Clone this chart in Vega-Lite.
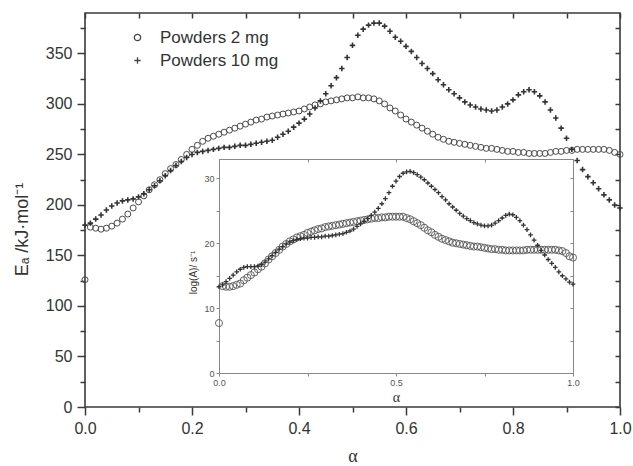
{
"$schema":"https://vega.github.io/schema/vega-lite/v6.json",
"width":535,"height":394,"autosize":"none",
"padding":{"left":85,"top":13,"right":13,"bottom":59},
"config":{"font":"Liberation Sans","view":{"stroke":"#3a3a3a","strokeWidth":1.6},"axis":{"grid":false,"labelColor":"#333","tickColor":"#3a3a3a","titleColor":"#333","labelFlush":false,"labelOverlap":false}},
"datasets":{
"main":[
{"a":0,"s":"2 mg","v":126},{"a":0.01,"s":"2 mg","v":178},{"a":0.02,"s":"2 mg","v":177},{"a":0.03,"s":"2 mg","v":176},{"a":0.04,"s":"2 mg","v":177},{"a":0.05,"s":"2 mg","v":179},{"a":0.06,"s":"2 mg","v":182},{"a":0.07,"s":"2 mg","v":186},{"a":0.08,"s":"2 mg","v":191},{"a":0.09,"s":"2 mg","v":197},{"a":0.1,"s":"2 mg","v":203},
{"a":0.11,"s":"2 mg","v":209},{"a":0.12,"s":"2 mg","v":215},{"a":0.13,"s":"2 mg","v":220},{"a":0.14,"s":"2 mg","v":225},{"a":0.15,"s":"2 mg","v":231},{"a":0.16,"s":"2 mg","v":236},{"a":0.17,"s":"2 mg","v":240},{"a":0.18,"s":"2 mg","v":245},{"a":0.19,"s":"2 mg","v":250},{"a":0.2,"s":"2 mg","v":255},
{"a":0.21,"s":"2 mg","v":259},{"a":0.22,"s":"2 mg","v":263},{"a":0.23,"s":"2 mg","v":266},{"a":0.24,"s":"2 mg","v":268},{"a":0.25,"s":"2 mg","v":270},{"a":0.26,"s":"2 mg","v":272},{"a":0.27,"s":"2 mg","v":274},{"a":0.28,"s":"2 mg","v":276},{"a":0.29,"s":"2 mg","v":278},{"a":0.3,"s":"2 mg","v":280},
{"a":0.31,"s":"2 mg","v":282},{"a":0.32,"s":"2 mg","v":284},{"a":0.33,"s":"2 mg","v":285},{"a":0.34,"s":"2 mg","v":287},{"a":0.35,"s":"2 mg","v":288},{"a":0.36,"s":"2 mg","v":289},{"a":0.37,"s":"2 mg","v":290},{"a":0.38,"s":"2 mg","v":291},{"a":0.39,"s":"2 mg","v":292},{"a":0.4,"s":"2 mg","v":293},
{"a":0.41,"s":"2 mg","v":295},{"a":0.42,"s":"2 mg","v":297},{"a":0.43,"s":"2 mg","v":299},{"a":0.44,"s":"2 mg","v":300},{"a":0.45,"s":"2 mg","v":302},{"a":0.46,"s":"2 mg","v":303},{"a":0.47,"s":"2 mg","v":304},{"a":0.48,"s":"2 mg","v":305},{"a":0.49,"s":"2 mg","v":306},{"a":0.5,"s":"2 mg","v":306},
{"a":0.51,"s":"2 mg","v":307},{"a":0.52,"s":"2 mg","v":306},{"a":0.53,"s":"2 mg","v":306},{"a":0.54,"s":"2 mg","v":305},{"a":0.55,"s":"2 mg","v":303},{"a":0.56,"s":"2 mg","v":300},{"a":0.57,"s":"2 mg","v":296},{"a":0.58,"s":"2 mg","v":293},{"a":0.59,"s":"2 mg","v":289},{"a":0.6,"s":"2 mg","v":285},
{"a":0.61,"s":"2 mg","v":282},{"a":0.62,"s":"2 mg","v":279},{"a":0.63,"s":"2 mg","v":276},{"a":0.64,"s":"2 mg","v":273},{"a":0.65,"s":"2 mg","v":270},{"a":0.66,"s":"2 mg","v":267},{"a":0.67,"s":"2 mg","v":265},{"a":0.68,"s":"2 mg","v":263},{"a":0.69,"s":"2 mg","v":262},{"a":0.7,"s":"2 mg","v":261},
{"a":0.71,"s":"2 mg","v":260},{"a":0.72,"s":"2 mg","v":259},{"a":0.73,"s":"2 mg","v":258},{"a":0.74,"s":"2 mg","v":257},{"a":0.75,"s":"2 mg","v":256},{"a":0.76,"s":"2 mg","v":256},{"a":0.77,"s":"2 mg","v":255},{"a":0.78,"s":"2 mg","v":254},{"a":0.79,"s":"2 mg","v":253},{"a":0.8,"s":"2 mg","v":253},
{"a":0.81,"s":"2 mg","v":252},{"a":0.82,"s":"2 mg","v":252},{"a":0.83,"s":"2 mg","v":251},{"a":0.84,"s":"2 mg","v":251},{"a":0.85,"s":"2 mg","v":251},{"a":0.86,"s":"2 mg","v":251},{"a":0.87,"s":"2 mg","v":252},{"a":0.88,"s":"2 mg","v":253},{"a":0.89,"s":"2 mg","v":253},{"a":0.9,"s":"2 mg","v":254},
{"a":0.91,"s":"2 mg","v":254},{"a":0.92,"s":"2 mg","v":255},{"a":0.93,"s":"2 mg","v":255},{"a":0.94,"s":"2 mg","v":255},{"a":0.95,"s":"2 mg","v":255},{"a":0.96,"s":"2 mg","v":255},{"a":0.97,"s":"2 mg","v":255},{"a":0.98,"s":"2 mg","v":254},{"a":0.99,"s":"2 mg","v":252},{"a":1,"s":"2 mg","v":250},
{"a":0,"s":"10 mg","v":180},{"a":0.01,"s":"10 mg","v":182},{"a":0.02,"s":"10 mg","v":186},{"a":0.03,"s":"10 mg","v":190},{"a":0.04,"s":"10 mg","v":195},{"a":0.05,"s":"10 mg","v":199},{"a":0.06,"s":"10 mg","v":202},{"a":0.07,"s":"10 mg","v":204},{"a":0.08,"s":"10 mg","v":205},{"a":0.09,"s":"10 mg","v":206},{"a":0.1,"s":"10 mg","v":208},
{"a":0.11,"s":"10 mg","v":211},{"a":0.12,"s":"10 mg","v":215},{"a":0.13,"s":"10 mg","v":219},{"a":0.14,"s":"10 mg","v":224},{"a":0.15,"s":"10 mg","v":229},{"a":0.16,"s":"10 mg","v":234},{"a":0.17,"s":"10 mg","v":239},{"a":0.18,"s":"10 mg","v":243},{"a":0.19,"s":"10 mg","v":247},{"a":0.2,"s":"10 mg","v":250},
{"a":0.21,"s":"10 mg","v":252},{"a":0.22,"s":"10 mg","v":253},{"a":0.23,"s":"10 mg","v":254},{"a":0.24,"s":"10 mg","v":255},{"a":0.25,"s":"10 mg","v":256},{"a":0.26,"s":"10 mg","v":257},{"a":0.27,"s":"10 mg","v":257},{"a":0.28,"s":"10 mg","v":258},{"a":0.29,"s":"10 mg","v":259},{"a":0.3,"s":"10 mg","v":259},
{"a":0.31,"s":"10 mg","v":260},{"a":0.32,"s":"10 mg","v":261},{"a":0.33,"s":"10 mg","v":262},{"a":0.34,"s":"10 mg","v":263},{"a":0.35,"s":"10 mg","v":264},{"a":0.36,"s":"10 mg","v":267},{"a":0.37,"s":"10 mg","v":270},{"a":0.38,"s":"10 mg","v":273},{"a":0.39,"s":"10 mg","v":277},{"a":0.4,"s":"10 mg","v":281},
{"a":0.41,"s":"10 mg","v":285},{"a":0.42,"s":"10 mg","v":290},{"a":0.43,"s":"10 mg","v":296},{"a":0.44,"s":"10 mg","v":303},{"a":0.45,"s":"10 mg","v":310},{"a":0.46,"s":"10 mg","v":318},{"a":0.47,"s":"10 mg","v":326},{"a":0.48,"s":"10 mg","v":335},{"a":0.49,"s":"10 mg","v":346},{"a":0.5,"s":"10 mg","v":358},
{"a":0.51,"s":"10 mg","v":368},{"a":0.52,"s":"10 mg","v":374},{"a":0.53,"s":"10 mg","v":378},{"a":0.54,"s":"10 mg","v":380},{"a":0.55,"s":"10 mg","v":380},{"a":0.56,"s":"10 mg","v":377},{"a":0.57,"s":"10 mg","v":372},{"a":0.58,"s":"10 mg","v":366},{"a":0.59,"s":"10 mg","v":362},{"a":0.6,"s":"10 mg","v":357},
{"a":0.61,"s":"10 mg","v":352},{"a":0.62,"s":"10 mg","v":346},{"a":0.63,"s":"10 mg","v":340},{"a":0.64,"s":"10 mg","v":335},{"a":0.65,"s":"10 mg","v":330},{"a":0.66,"s":"10 mg","v":324},{"a":0.67,"s":"10 mg","v":319},{"a":0.68,"s":"10 mg","v":314},{"a":0.69,"s":"10 mg","v":310},{"a":0.7,"s":"10 mg","v":306},
{"a":0.71,"s":"10 mg","v":302},{"a":0.72,"s":"10 mg","v":299},{"a":0.73,"s":"10 mg","v":297},{"a":0.74,"s":"10 mg","v":295},{"a":0.75,"s":"10 mg","v":294},{"a":0.76,"s":"10 mg","v":293},{"a":0.77,"s":"10 mg","v":294},{"a":0.78,"s":"10 mg","v":297},{"a":0.79,"s":"10 mg","v":300},{"a":0.8,"s":"10 mg","v":304},
{"a":0.81,"s":"10 mg","v":309},{"a":0.82,"s":"10 mg","v":312},{"a":0.83,"s":"10 mg","v":314},{"a":0.84,"s":"10 mg","v":312},{"a":0.85,"s":"10 mg","v":308},{"a":0.86,"s":"10 mg","v":302},{"a":0.87,"s":"10 mg","v":294},{"a":0.88,"s":"10 mg","v":286},{"a":0.89,"s":"10 mg","v":276},{"a":0.9,"s":"10 mg","v":266},
{"a":0.91,"s":"10 mg","v":255},{"a":0.92,"s":"10 mg","v":244},{"a":0.93,"s":"10 mg","v":235},{"a":0.94,"s":"10 mg","v":228},{"a":0.95,"s":"10 mg","v":222},{"a":0.96,"s":"10 mg","v":216},{"a":0.97,"s":"10 mg","v":210},{"a":0.98,"s":"10 mg","v":205},{"a":0.99,"s":"10 mg","v":200},{"a":1,"s":"10 mg","v":197}
],
"inset":[
{"a":0,"s":"2 mg","v":7.7},{"a":0.01,"s":"2 mg","v":13.4},{"a":0.02,"s":"2 mg","v":13.3},{"a":0.03,"s":"2 mg","v":13.3},{"a":0.04,"s":"2 mg","v":13.4},{"a":0.05,"s":"2 mg","v":13.6},{"a":0.06,"s":"2 mg","v":13.8},{"a":0.07,"s":"2 mg","v":14.3},{"a":0.08,"s":"2 mg","v":14.7},{"a":0.09,"s":"2 mg","v":15.1},{"a":0.1,"s":"2 mg","v":15.5},
{"a":0.11,"s":"2 mg","v":16.0},{"a":0.12,"s":"2 mg","v":16.4},{"a":0.13,"s":"2 mg","v":16.9},{"a":0.14,"s":"2 mg","v":17.5},{"a":0.15,"s":"2 mg","v":18.0},{"a":0.16,"s":"2 mg","v":18.5},{"a":0.17,"s":"2 mg","v":19.0},{"a":0.18,"s":"2 mg","v":19.5},{"a":0.19,"s":"2 mg","v":19.9},{"a":0.2,"s":"2 mg","v":20.3},
{"a":0.21,"s":"2 mg","v":20.6},{"a":0.22,"s":"2 mg","v":20.9},{"a":0.23,"s":"2 mg","v":21.1},{"a":0.24,"s":"2 mg","v":21.3},{"a":0.25,"s":"2 mg","v":21.6},{"a":0.26,"s":"2 mg","v":21.8},{"a":0.27,"s":"2 mg","v":22.0},{"a":0.28,"s":"2 mg","v":22.2},{"a":0.29,"s":"2 mg","v":22.3},{"a":0.3,"s":"2 mg","v":22.5},
{"a":0.31,"s":"2 mg","v":22.6},{"a":0.32,"s":"2 mg","v":22.7},{"a":0.33,"s":"2 mg","v":22.8},{"a":0.34,"s":"2 mg","v":22.9},{"a":0.35,"s":"2 mg","v":23.0},{"a":0.36,"s":"2 mg","v":23.1},{"a":0.37,"s":"2 mg","v":23.2},{"a":0.38,"s":"2 mg","v":23.3},{"a":0.39,"s":"2 mg","v":23.4},{"a":0.4,"s":"2 mg","v":23.5},
{"a":0.41,"s":"2 mg","v":23.6},{"a":0.42,"s":"2 mg","v":23.7},{"a":0.43,"s":"2 mg","v":23.8},{"a":0.44,"s":"2 mg","v":23.9},{"a":0.45,"s":"2 mg","v":23.9},{"a":0.46,"s":"2 mg","v":24.0},{"a":0.47,"s":"2 mg","v":24.0},{"a":0.48,"s":"2 mg","v":24.1},{"a":0.49,"s":"2 mg","v":24.1},{"a":0.5,"s":"2 mg","v":24.1},
{"a":0.51,"s":"2 mg","v":24.1},{"a":0.52,"s":"2 mg","v":24.1},{"a":0.53,"s":"2 mg","v":23.9},{"a":0.54,"s":"2 mg","v":23.7},{"a":0.55,"s":"2 mg","v":23.4},{"a":0.56,"s":"2 mg","v":23.1},{"a":0.57,"s":"2 mg","v":22.8},{"a":0.58,"s":"2 mg","v":22.4},{"a":0.59,"s":"2 mg","v":22.0},{"a":0.6,"s":"2 mg","v":21.7},
{"a":0.61,"s":"2 mg","v":21.3},{"a":0.62,"s":"2 mg","v":21.0},{"a":0.63,"s":"2 mg","v":20.7},{"a":0.64,"s":"2 mg","v":20.5},{"a":0.65,"s":"2 mg","v":20.3},{"a":0.66,"s":"2 mg","v":20.1},{"a":0.67,"s":"2 mg","v":20.0},{"a":0.68,"s":"2 mg","v":19.9},{"a":0.69,"s":"2 mg","v":19.8},{"a":0.7,"s":"2 mg","v":19.7},
{"a":0.71,"s":"2 mg","v":19.6},{"a":0.72,"s":"2 mg","v":19.5},{"a":0.73,"s":"2 mg","v":19.5},{"a":0.74,"s":"2 mg","v":19.4},{"a":0.75,"s":"2 mg","v":19.3},{"a":0.76,"s":"2 mg","v":19.2},{"a":0.77,"s":"2 mg","v":19.1},{"a":0.78,"s":"2 mg","v":19.1},{"a":0.79,"s":"2 mg","v":19.0},{"a":0.8,"s":"2 mg","v":19.0},
{"a":0.81,"s":"2 mg","v":18.9},{"a":0.82,"s":"2 mg","v":18.9},{"a":0.83,"s":"2 mg","v":18.9},{"a":0.84,"s":"2 mg","v":18.9},{"a":0.85,"s":"2 mg","v":18.9},{"a":0.86,"s":"2 mg","v":18.9},{"a":0.87,"s":"2 mg","v":19.0},{"a":0.88,"s":"2 mg","v":19.0},{"a":0.89,"s":"2 mg","v":19.0},{"a":0.9,"s":"2 mg","v":19.0},
{"a":0.91,"s":"2 mg","v":19.0},{"a":0.92,"s":"2 mg","v":19.0},{"a":0.93,"s":"2 mg","v":19.0},{"a":0.94,"s":"2 mg","v":19.0},{"a":0.95,"s":"2 mg","v":19.0},{"a":0.96,"s":"2 mg","v":18.9},{"a":0.97,"s":"2 mg","v":18.8},{"a":0.98,"s":"2 mg","v":18.5},{"a":0.99,"s":"2 mg","v":18.0},{"a":1,"s":"2 mg","v":17.8},
{"a":0,"s":"10 mg","v":13.3},{"a":0.01,"s":"10 mg","v":13.6},{"a":0.02,"s":"10 mg","v":14.1},{"a":0.03,"s":"10 mg","v":14.6},{"a":0.04,"s":"10 mg","v":15.1},{"a":0.05,"s":"10 mg","v":15.6},{"a":0.06,"s":"10 mg","v":16.0},{"a":0.07,"s":"10 mg","v":16.3},{"a":0.08,"s":"10 mg","v":16.4},{"a":0.09,"s":"10 mg","v":16.4},{"a":0.1,"s":"10 mg","v":16.4},
{"a":0.11,"s":"10 mg","v":16.5},{"a":0.12,"s":"10 mg","v":16.7},{"a":0.13,"s":"10 mg","v":17.1},{"a":0.14,"s":"10 mg","v":17.6},{"a":0.15,"s":"10 mg","v":18.1},{"a":0.16,"s":"10 mg","v":18.6},{"a":0.17,"s":"10 mg","v":19.1},{"a":0.18,"s":"10 mg","v":19.5},{"a":0.19,"s":"10 mg","v":19.9},{"a":0.2,"s":"10 mg","v":20.2},
{"a":0.21,"s":"10 mg","v":20.4},{"a":0.22,"s":"10 mg","v":20.6},{"a":0.23,"s":"10 mg","v":20.7},{"a":0.24,"s":"10 mg","v":20.8},{"a":0.25,"s":"10 mg","v":20.8},{"a":0.26,"s":"10 mg","v":20.9},{"a":0.27,"s":"10 mg","v":20.9},{"a":0.28,"s":"10 mg","v":21.0},{"a":0.29,"s":"10 mg","v":21.0},{"a":0.3,"s":"10 mg","v":21.1},
{"a":0.31,"s":"10 mg","v":21.1},{"a":0.32,"s":"10 mg","v":21.2},{"a":0.33,"s":"10 mg","v":21.3},{"a":0.34,"s":"10 mg","v":21.4},{"a":0.35,"s":"10 mg","v":21.5},{"a":0.36,"s":"10 mg","v":21.7},{"a":0.37,"s":"10 mg","v":21.9},{"a":0.38,"s":"10 mg","v":22.2},{"a":0.39,"s":"10 mg","v":22.6},{"a":0.4,"s":"10 mg","v":23.0},
{"a":0.41,"s":"10 mg","v":23.4},{"a":0.42,"s":"10 mg","v":23.8},{"a":0.43,"s":"10 mg","v":24.3},{"a":0.44,"s":"10 mg","v":24.8},{"a":0.45,"s":"10 mg","v":25.4},{"a":0.46,"s":"10 mg","v":26.1},{"a":0.47,"s":"10 mg","v":26.9},{"a":0.48,"s":"10 mg","v":27.8},{"a":0.49,"s":"10 mg","v":28.8},{"a":0.5,"s":"10 mg","v":29.6},
{"a":0.51,"s":"10 mg","v":30.3},{"a":0.52,"s":"10 mg","v":30.8},{"a":0.53,"s":"10 mg","v":31.0},{"a":0.54,"s":"10 mg","v":31.1},{"a":0.55,"s":"10 mg","v":30.9},{"a":0.56,"s":"10 mg","v":30.6},{"a":0.57,"s":"10 mg","v":30.2},{"a":0.58,"s":"10 mg","v":29.8},{"a":0.59,"s":"10 mg","v":29.3},{"a":0.6,"s":"10 mg","v":28.8},
{"a":0.61,"s":"10 mg","v":28.3},{"a":0.62,"s":"10 mg","v":27.8},{"a":0.63,"s":"10 mg","v":27.2},{"a":0.64,"s":"10 mg","v":26.7},{"a":0.65,"s":"10 mg","v":26.1},{"a":0.66,"s":"10 mg","v":25.6},{"a":0.67,"s":"10 mg","v":25.1},{"a":0.68,"s":"10 mg","v":24.6},{"a":0.69,"s":"10 mg","v":24.2},{"a":0.7,"s":"10 mg","v":23.8},
{"a":0.71,"s":"10 mg","v":23.5},{"a":0.72,"s":"10 mg","v":23.2},{"a":0.73,"s":"10 mg","v":23.0},{"a":0.74,"s":"10 mg","v":22.8},{"a":0.75,"s":"10 mg","v":22.7},{"a":0.76,"s":"10 mg","v":22.7},{"a":0.77,"s":"10 mg","v":22.8},{"a":0.78,"s":"10 mg","v":23.1},{"a":0.79,"s":"10 mg","v":23.5},{"a":0.8,"s":"10 mg","v":23.9},
{"a":0.81,"s":"10 mg","v":24.3},{"a":0.82,"s":"10 mg","v":24.5},{"a":0.83,"s":"10 mg","v":24.4},{"a":0.84,"s":"10 mg","v":24.0},{"a":0.85,"s":"10 mg","v":23.5},{"a":0.86,"s":"10 mg","v":22.8},{"a":0.87,"s":"10 mg","v":22.1},{"a":0.88,"s":"10 mg","v":21.3},{"a":0.89,"s":"10 mg","v":20.5},{"a":0.9,"s":"10 mg","v":19.7},
{"a":0.91,"s":"10 mg","v":18.9},{"a":0.92,"s":"10 mg","v":18.2},{"a":0.93,"s":"10 mg","v":17.5},{"a":0.94,"s":"10 mg","v":16.9},{"a":0.95,"s":"10 mg","v":16.3},{"a":0.96,"s":"10 mg","v":15.6},{"a":0.97,"s":"10 mg","v":15.0},{"a":0.98,"s":"10 mg","v":14.5},{"a":0.99,"s":"10 mg","v":14.0},{"a":1,"s":"10 mg","v":13.7}
]},
"layer":[
{"layer":[
 {"data":{"name":"main"},"transform":[{"filter":"datum.s==='2 mg'"}],
  "mark":{"type":"point","filled":false,"color":"#4a4a4a","strokeWidth":1,"size":36,"opacity":1},
  "encoding":{
   "x":{"field":"a","type":"quantitative","scale":{"domain":[0,1],"nice":false},
    "axis":{"orient":"bottom","values":[0,0.1,0.2,0.3,0.4,0.5,0.6,0.7,0.8,0.9,1],"format":".1f","labelExpr":"round(datum.value*10)%2===0 ? datum.label : ''","tickSize":{"condition":{"test":"round(datum.value*10)%2===0","value":8},"value":5},"tickWidth":1.5,"domain":false,"labelFontSize":16,"labelPadding":5,"title":"α","titleFont":"Liberation Serif","titleFontSize":18,"titleFontWeight":"normal","titleX":267.5,"titleY":54,"titleBaseline":"alphabetic","titleAlign":"center"}},
   "y":{"field":"v","type":"quantitative","scale":{"domain":[0,390],"nice":false},
    "axis":{"orient":"left","values":[0,25,50,75,100,125,150,175,200,225,250,275,300,325,350,375],"labelExpr":"datum.value%50===0 ? datum.label : ''","tickSize":{"condition":{"test":"datum.value%50===0","value":8},"value":5},"tickWidth":1.5,"domain":false,"labelFontSize":16,"labelPadding":5,"title":"Eₐ /kJ·mol⁻¹","titleFontSize":18,"titleFontWeight":"normal","titleX":-58,"titleY":216,"titleAngle":-90,"titleBaseline":"alphabetic","titleAlign":"center"}},
   "shape":{"field":"s","type":"nominal","scale":{"domain":["2 mg","10 mg"],"range":["circle","M-1,0H1M0,-1V1"]},
    "legend":{"orient":"none","legendX":44,"legendY":16,"title":null,"padding":0,"labelExpr":"'Powders ' + datum.label","labelFontSize":17,"labelColor":"#333","symbolSize":40,"symbolStrokeWidth":1.3,"symbolStrokeColor":"#444","symbolFillColor":"transparent","labelOffset":14,"rowPadding":5}}
  }},
 {"data":{"name":"main"},"transform":[{"filter":"datum.s==='10 mg'"}],
  "mark":{"type":"point","filled":false,"color":"#333","strokeWidth":1.6,"size":30,"opacity":1},
  "encoding":{
   "x":{"field":"a","type":"quantitative","scale":{"domain":[0,1],"nice":false},
    "axis":{"orient":"top","values":[0,0.1,0.2,0.3,0.4,0.5,0.6,0.7,0.8,0.9,1],"labels":false,"tickSize":-5,"tickWidth":1.5,"domain":false,"title":null}},
   "y":{"field":"v","type":"quantitative","scale":{"domain":[0,390],"nice":false},
    "axis":{"orient":"right","values":[0,25,50,75,100,125,150,175,200,225,250,275,300,325,350,375],"labels":false,"tickSize":-5,"tickWidth":1.5,"domain":false,"title":null}},
   "shape":{"field":"s","type":"nominal","scale":{"domain":["2 mg","10 mg"],"range":["circle","M-1,0H1M0,-1V1"]}}
  }}
 ],
 "resolve":{"axis":{"x":"independent","y":"independent"}}},
{"layer":[
 {"data":{"name":"inset"},"transform":[{"filter":"datum.s==='2 mg'"}],
  "mark":{"type":"point","shape":"circle","filled":false,"color":"#555","strokeWidth":0.9,"size":50,"opacity":1},
  "encoding":{
   "x":{"field":"a","type":"quantitative","scale":{"domain":[0,1],"nice":false,"range":[134,488]},
    "axis":{"orient":"bottom","offset":-34,"values":[0,0.25,0.5,0.75,1],"labelExpr":"(datum.value*2)%1===0 ? format(datum.value,'.1f') : ''","tickSize":3,"domainColor":"#888","tickColor":"#888","labelFontSize":9,"labelColor":"#555","labelPadding":2,"title":"α","titleFont":"Liberation Serif","titleFontSize":14,"titleFontWeight":"normal","titleX":311,"titleY":28,"titleBaseline":"alphabetic","titleAlign":"center"}},
   "y":{"field":"v","type":"quantitative","scale":{"domain":[0,33],"nice":false,"range":[360,146]},
    "axis":{"orient":"left","offset":-134,"values":[0,5,10,15,20,25,30],"labelExpr":"datum.value%10===0 ? datum.label : ''","tickSize":3,"domainColor":"#888","tickColor":"#888","labelFontSize":9,"labelColor":"#555","labelPadding":2,"title":"log(A)/ s⁻¹","titleFontSize":10,"titleFontWeight":"normal","titleX":-23,"titleY":259,"titleAngle":-90,"titleBaseline":"alphabetic","titleAlign":"center"}}
  }},
 {"data":{"name":"inset"},"transform":[{"filter":"datum.s==='10 mg'"}],
  "mark":{"type":"point","shape":"M-1,0H1M0,-1V1","filled":false,"color":"#333","strokeWidth":1.3,"size":22,"opacity":1},
  "encoding":{
   "x":{"field":"a","type":"quantitative","scale":{"domain":[0,1],"nice":false,"range":[134,488]},
    "axis":{"orient":"top","offset":-146,"values":[0,0.25,0.5,0.75,1],"labels":false,"tickSize":-3,"domainColor":"#888","tickColor":"#888","title":null}},
   "y":{"field":"v","type":"quantitative","scale":{"domain":[0,33],"nice":false,"range":[360,146]},
    "axis":{"orient":"right","offset":-47,"values":[0,5,10,15,20,25,30],"labels":false,"tickSize":-3,"domainColor":"#888","tickColor":"#888","title":null}}
  }}
 ],
 "resolve":{"axis":{"x":"independent","y":"independent"}}}
],
"resolve":{"scale":{"x":"independent","y":"independent"}}
}
